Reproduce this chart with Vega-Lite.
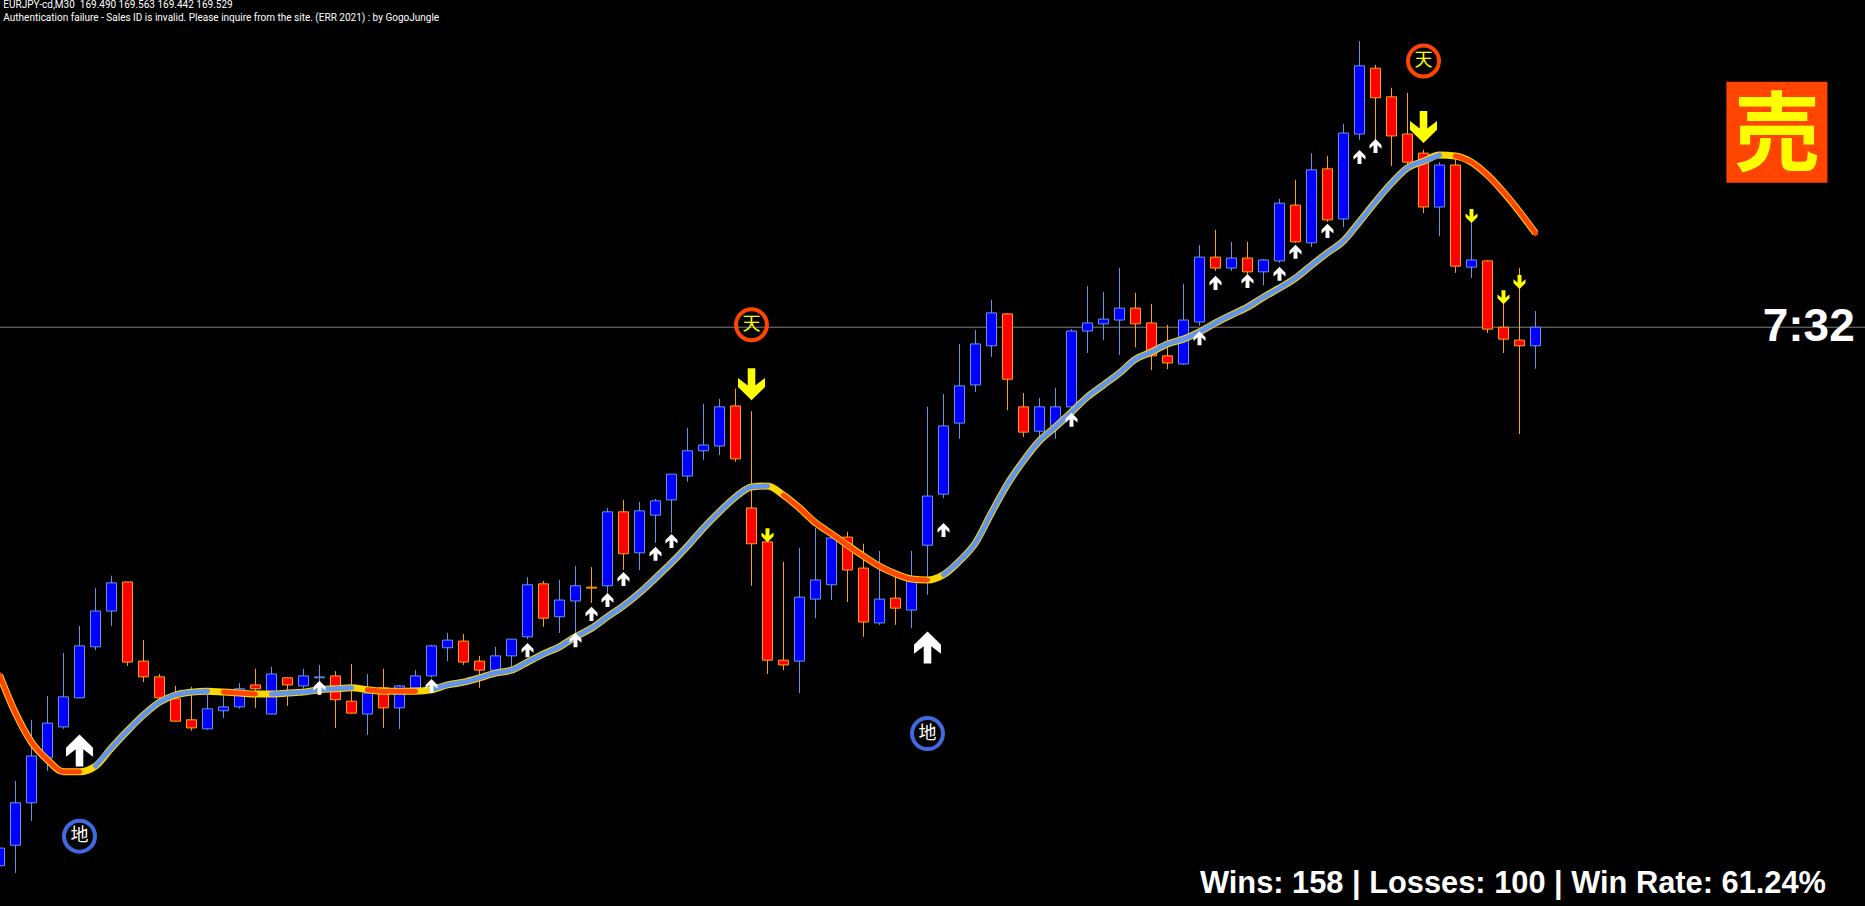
{
"$schema":"https://vega.github.io/schema/vega-lite/v6.json",
"width":1865,"height":906,"autosize":{"type":"none"},"padding":0,"background":"#000000",
"config":{"view":{"stroke":null},"axis":{"domain":false}},
"resolve":{"scale":{"color":"independent","fill":"independent","stroke":"independent","size":"independent","shape":"independent"}},
"datasets":{
"bars":[
{"b":-1,"d":"up","o":168.400,"h":168.441,"l":168.395,"c":168.437,"ma":168.800,"seg":0,"t":"down"},
{"b":0,"d":"up","o":168.443,"h":168.578,"l":168.385,"c":168.532,"ma":168.720,"seg":0,"t":"down"},
{"b":1,"d":"up","o":168.532,"h":168.706,"l":168.494,"c":168.630,"ma":168.659,"seg":0,"t":"down"},
{"b":2,"d":"up","o":168.626,"h":168.756,"l":168.599,"c":168.699,"ma":168.622,"seg":0,"t":"down"},
{"b":3,"d":"up","o":168.691,"h":168.846,"l":168.687,"c":168.754,"ma":168.597,"seg":0,"t":"down"},
{"b":4,"d":"up","o":168.752,"h":168.903,"l":168.752,"c":168.861,"ma":168.597,"seg":0,"t":"down"},
{"b":5,"d":"up","o":168.859,"h":168.982,"l":168.852,"c":168.934,"ma":168.609,"seg":1,"t":"up"},
{"b":6,"d":"up","o":168.934,"h":169.008,"l":168.903,"c":168.993,"ma":168.647,"seg":1,"t":"up"},
{"b":7,"d":"down","o":168.995,"h":168.995,"l":168.819,"c":168.827,"ma":168.683,"seg":1,"t":"up"},
{"b":8,"d":"down","o":168.829,"h":168.873,"l":168.785,"c":168.796,"ma":168.716,"seg":1,"t":"up"},
{"b":9,"d":"down","o":168.796,"h":168.802,"l":168.750,"c":168.752,"ma":168.743,"seg":1,"t":"up"},
{"b":10,"d":"down","o":168.750,"h":168.777,"l":168.703,"c":168.703,"ma":168.758,"seg":1,"t":"up"},
{"b":11,"d":"down","o":168.706,"h":168.775,"l":168.683,"c":168.689,"ma":168.764,"seg":1,"t":"up"},
{"b":12,"d":"up","o":168.687,"h":168.758,"l":168.685,"c":168.729,"ma":168.766,"seg":1,"t":"up"},
{"b":13,"d":"up","o":168.725,"h":168.758,"l":168.710,"c":168.733,"ma":168.764,"seg":2,"t":"down"},
{"b":14,"d":"up","o":168.733,"h":168.783,"l":168.729,"c":168.771,"ma":168.762,"seg":2,"t":"down"},
{"b":15,"d":"down","o":168.779,"h":168.813,"l":168.731,"c":168.771,"ma":168.760,"seg":2,"t":"down"},
{"b":16,"d":"up","o":168.718,"h":168.817,"l":168.718,"c":168.802,"ma":168.760,"seg":3,"t":"up"},
{"b":17,"d":"down","o":168.794,"h":168.794,"l":168.735,"c":168.779,"ma":168.762,"seg":3,"t":"up"},
{"b":18,"d":"up","o":168.777,"h":168.813,"l":168.771,"c":168.798,"ma":168.764,"seg":3,"t":"up"},
{"b":19,"d":"up","o":168.794,"h":168.821,"l":168.758,"c":168.796,"ma":168.769,"seg":3,"t":"up"},
{"b":20,"d":"down","o":168.798,"h":168.808,"l":168.689,"c":168.748,"ma":168.771,"seg":3,"t":"up"},
{"b":21,"d":"down","o":168.745,"h":168.823,"l":168.718,"c":168.720,"ma":168.773,"seg":3,"t":"up"},
{"b":22,"d":"up","o":168.718,"h":168.802,"l":168.674,"c":168.762,"ma":168.769,"seg":4,"t":"down"},
{"b":23,"d":"down","o":168.773,"h":168.813,"l":168.689,"c":168.731,"ma":168.766,"seg":4,"t":"down"},
{"b":24,"d":"up","o":168.731,"h":168.779,"l":168.687,"c":168.777,"ma":168.766,"seg":4,"t":"down"},
{"b":25,"d":"up","o":168.773,"h":168.810,"l":168.769,"c":168.798,"ma":168.766,"seg":4,"t":"down"},
{"b":26,"d":"up","o":168.798,"h":168.863,"l":168.794,"c":168.861,"ma":168.769,"seg":5,"t":"up"},
{"b":27,"d":"up","o":168.857,"h":168.888,"l":168.829,"c":168.873,"ma":168.779,"seg":5,"t":"up"},
{"b":28,"d":"down","o":168.871,"h":168.886,"l":168.821,"c":168.827,"ma":168.785,"seg":5,"t":"up"},
{"b":29,"d":"down","o":168.829,"h":168.840,"l":168.773,"c":168.810,"ma":168.794,"seg":5,"t":"up"},
{"b":30,"d":"up","o":168.810,"h":168.859,"l":168.800,"c":168.840,"ma":168.804,"seg":5,"t":"up"},
{"b":31,"d":"up","o":168.840,"h":168.875,"l":168.817,"c":168.875,"ma":168.810,"seg":5,"t":"up"},
{"b":32,"d":"up","o":168.880,"h":169.005,"l":168.875,"c":168.989,"ma":168.827,"seg":5,"t":"up"},
{"b":33,"d":"down","o":168.991,"h":168.997,"l":168.901,"c":168.919,"ma":168.844,"seg":5,"t":"up"},
{"b":34,"d":"up","o":168.922,"h":168.999,"l":168.888,"c":168.957,"ma":168.859,"seg":5,"t":"up"},
{"b":35,"d":"up","o":168.955,"h":169.028,"l":168.878,"c":168.987,"ma":168.880,"seg":5,"t":"up"},
{"b":36,"d":"down","o":168.984,"h":169.026,"l":168.951,"c":168.982,"ma":168.898,"seg":5,"t":"up"},
{"b":37,"d":"up","o":168.987,"h":169.150,"l":168.972,"c":169.142,"ma":168.922,"seg":5,"t":"up"},
{"b":38,"d":"down","o":169.142,"h":169.167,"l":169.020,"c":169.054,"ma":168.945,"seg":5,"t":"up"},
{"b":39,"d":"up","o":169.056,"h":169.163,"l":169.020,"c":169.144,"ma":168.972,"seg":5,"t":"up"},
{"b":40,"d":"up","o":169.135,"h":169.169,"l":169.077,"c":169.165,"ma":169.003,"seg":5,"t":"up"},
{"b":41,"d":"up","o":169.167,"h":169.221,"l":169.098,"c":169.221,"ma":169.035,"seg":5,"t":"up"},
{"b":42,"d":"up","o":169.217,"h":169.318,"l":169.205,"c":169.270,"ma":169.070,"seg":5,"t":"up"},
{"b":43,"d":"up","o":169.270,"h":169.368,"l":169.251,"c":169.282,"ma":169.108,"seg":5,"t":"up"},
{"b":44,"d":"up","o":169.280,"h":169.379,"l":169.261,"c":169.362,"ma":169.142,"seg":5,"t":"up"},
{"b":45,"d":"down","o":169.364,"h":169.400,"l":169.247,"c":169.253,"ma":169.173,"seg":5,"t":"up"},
{"b":46,"d":"down","o":169.150,"h":169.353,"l":168.987,"c":169.075,"ma":169.194,"seg":5,"t":"up"},
{"b":47,"d":"down","o":169.079,"h":169.079,"l":168.802,"c":168.831,"ma":169.196,"seg":5,"t":"up"},
{"b":48,"d":"down","o":168.831,"h":169.037,"l":168.810,"c":168.821,"ma":169.177,"seg":6,"t":"down"},
{"b":49,"d":"up","o":168.829,"h":169.066,"l":168.762,"c":168.963,"ma":169.150,"seg":6,"t":"down"},
{"b":50,"d":"up","o":168.959,"h":169.108,"l":168.919,"c":168.999,"ma":169.119,"seg":6,"t":"down"},
{"b":51,"d":"up","o":168.989,"h":169.089,"l":168.957,"c":169.087,"ma":169.096,"seg":6,"t":"down"},
{"b":52,"d":"down","o":169.089,"h":169.100,"l":168.953,"c":169.020,"ma":169.072,"seg":6,"t":"down"},
{"b":53,"d":"down","o":169.024,"h":169.075,"l":168.880,"c":168.911,"ma":169.049,"seg":6,"t":"down"},
{"b":54,"d":"up","o":168.909,"h":169.060,"l":168.905,"c":168.959,"ma":169.028,"seg":6,"t":"down"},
{"b":55,"d":"down","o":168.961,"h":169.008,"l":168.905,"c":168.940,"ma":169.012,"seg":6,"t":"down"},
{"b":56,"d":"up","o":168.936,"h":169.060,"l":168.898,"c":168.997,"ma":169.001,"seg":6,"t":"down"},
{"b":57,"d":"up","o":169.072,"h":169.362,"l":168.968,"c":169.175,"ma":168.999,"seg":6,"t":"down"},
{"b":58,"d":"up","o":169.179,"h":169.389,"l":169.171,"c":169.322,"ma":169.010,"seg":7,"t":"up"},
{"b":59,"d":"up","o":169.328,"h":169.494,"l":169.295,"c":169.406,"ma":169.039,"seg":7,"t":"up"},
{"b":60,"d":"up","o":169.408,"h":169.523,"l":169.393,"c":169.494,"ma":169.077,"seg":7,"t":"up"},
{"b":61,"d":"up","o":169.490,"h":169.586,"l":169.467,"c":169.559,"ma":169.140,"seg":7,"t":"up"},
{"b":62,"d":"down","o":169.557,"h":169.559,"l":169.355,"c":169.420,"ma":169.200,"seg":7,"t":"up"},
{"b":63,"d":"down","o":169.362,"h":169.391,"l":169.299,"c":169.309,"ma":169.249,"seg":7,"t":"up"},
{"b":64,"d":"up","o":169.311,"h":169.381,"l":169.293,"c":169.362,"ma":169.291,"seg":7,"t":"up"},
{"b":65,"d":"up","o":169.322,"h":169.402,"l":169.295,"c":169.362,"ma":169.320,"seg":7,"t":"up"},
{"b":66,"d":"up","o":169.362,"h":169.525,"l":169.349,"c":169.521,"ma":169.351,"seg":7,"t":"up"},
{"b":67,"d":"up","o":169.521,"h":169.615,"l":169.475,"c":169.538,"ma":169.383,"seg":7,"t":"up"},
{"b":68,"d":"up","o":169.536,"h":169.603,"l":169.502,"c":169.546,"ma":169.408,"seg":7,"t":"up"},
{"b":69,"d":"up","o":169.544,"h":169.653,"l":169.471,"c":169.569,"ma":169.433,"seg":7,"t":"up"},
{"b":70,"d":"down","o":169.569,"h":169.601,"l":169.487,"c":169.536,"ma":169.462,"seg":7,"t":"up"},
{"b":71,"d":"down","o":169.538,"h":169.578,"l":169.439,"c":169.469,"ma":169.477,"seg":7,"t":"up"},
{"b":72,"d":"down","o":169.469,"h":169.534,"l":169.441,"c":169.454,"ma":169.494,"seg":7,"t":"up"},
{"b":73,"d":"up","o":169.452,"h":169.620,"l":169.450,"c":169.544,"ma":169.504,"seg":7,"t":"up"},
{"b":74,"d":"up","o":169.540,"h":169.701,"l":169.532,"c":169.676,"ma":169.519,"seg":7,"t":"up"},
{"b":75,"d":"down","o":169.676,"h":169.733,"l":169.647,"c":169.653,"ma":169.538,"seg":7,"t":"up"},
{"b":76,"d":"up","o":169.653,"h":169.708,"l":169.647,"c":169.674,"ma":169.555,"seg":7,"t":"up"},
{"b":77,"d":"down","o":169.674,"h":169.708,"l":169.632,"c":169.645,"ma":169.571,"seg":7,"t":"up"},
{"b":78,"d":"up","o":169.645,"h":169.672,"l":169.617,"c":169.670,"ma":169.592,"seg":7,"t":"up"},
{"b":79,"d":"up","o":169.668,"h":169.798,"l":169.664,"c":169.789,"ma":169.611,"seg":7,"t":"up"},
{"b":80,"d":"down","o":169.785,"h":169.838,"l":169.706,"c":169.708,"ma":169.632,"seg":7,"t":"up"},
{"b":81,"d":"up","o":169.706,"h":169.894,"l":169.697,"c":169.859,"ma":169.659,"seg":7,"t":"up"},
{"b":82,"d":"down","o":169.861,"h":169.888,"l":169.750,"c":169.754,"ma":169.685,"seg":7,"t":"up"},
{"b":83,"d":"up","o":169.756,"h":169.955,"l":169.739,"c":169.936,"ma":169.710,"seg":7,"t":"up"},
{"b":84,"d":"up","o":169.934,"h":170.129,"l":169.922,"c":170.077,"ma":169.750,"seg":7,"t":"up"},
{"b":85,"d":"down","o":170.072,"h":170.079,"l":169.921,"c":170.010,"ma":169.792,"seg":7,"t":"up"},
{"b":86,"d":"down","o":170.012,"h":170.031,"l":169.867,"c":169.930,"ma":169.831,"seg":7,"t":"up"},
{"b":87,"d":"down","o":169.934,"h":170.020,"l":169.869,"c":169.875,"ma":169.863,"seg":7,"t":"up"},
{"b":88,"d":"down","o":169.894,"h":169.901,"l":169.768,"c":169.781,"ma":169.877,"seg":7,"t":"up"},
{"b":89,"d":"up","o":169.781,"h":169.875,"l":169.720,"c":169.869,"ma":169.890,"seg":7,"t":"up"},
{"b":90,"d":"down","o":169.869,"h":169.890,"l":169.643,"c":169.657,"ma":169.888,"seg":8,"t":"down"},
{"b":91,"d":"up","o":169.655,"h":169.760,"l":169.632,"c":169.670,"ma":169.875,"seg":8,"t":"down"},
{"b":92,"d":"down","o":169.668,"h":169.670,"l":169.517,"c":169.525,"ma":169.848,"seg":8,"t":"down"},
{"b":93,"d":"down","o":169.529,"h":169.590,"l":169.475,"c":169.504,"ma":169.812,"seg":8,"t":"down"},
{"b":94,"d":"down","o":169.502,"h":169.653,"l":169.305,"c":169.490,"ma":169.771,"seg":8,"t":"down"},
{"b":95,"d":"up","o":169.490,"h":169.563,"l":169.442,"c":169.529,"ma":169.726,"seg":8,"t":"down"}
],
"arrows":[
{"b":4,"p":168.641,"k":"up","m":"bu","s":"big"},{"b":57,"p":168.857,"k":"up","m":"bu","s":"big"},
{"b":46,"p":169.410,"k":"down","m":"bd","s":"big"},{"b":88,"p":169.949,"k":"down","m":"bd","s":"big"},
{"b":19,"p":168.773,"k":"up","m":"su","s":"small"},{"b":26,"p":168.777,"k":"up","m":"su","s":"small"},
{"b":32,"p":168.852,"k":"up","m":"su","s":"small"},{"b":35,"p":168.873,"k":"up","m":"su","s":"small"},
{"b":36,"p":168.928,"k":"up","m":"su","s":"small"},{"b":37,"p":168.957,"k":"up","m":"su","s":"small"},
{"b":38,"p":169.001,"k":"up","m":"su","s":"small"},{"b":40,"p":169.054,"k":"up","m":"su","s":"small"},
{"b":41,"p":169.081,"k":"up","m":"su","s":"small"},{"b":58,"p":169.104,"k":"up","m":"su","s":"small"},
{"b":66,"p":169.335,"k":"up","m":"su","s":"small"},{"b":74,"p":169.506,"k":"up","m":"su","s":"small"},
{"b":75,"p":169.622,"k":"up","m":"su","s":"small"},{"b":77,"p":169.626,"k":"up","m":"su","s":"small"},
{"b":79,"p":169.641,"k":"up","m":"su","s":"small"},{"b":80,"p":169.687,"k":"up","m":"su","s":"small"},
{"b":82,"p":169.731,"k":"up","m":"su","s":"small"},{"b":84,"p":169.886,"k":"up","m":"su","s":"small"},
{"b":85,"p":169.909,"k":"up","m":"su","s":"small"},
{"b":47,"p":169.093,"k":"down","m":"sd","s":"small"},{"b":91,"p":169.762,"k":"down","m":"sd","s":"small"},
{"b":93,"p":169.592,"k":"down","m":"sd","s":"small"},{"b":94,"p":169.624,"k":"down","m":"sd","s":"small"}
],
"seals":[
{"b":46,"p":169.534,"label":"天","k":"top"},{"b":88,"p":170.087,"label":"天","k":"top"},
{"b":4,"p":168.462,"label":"地","k":"bottom"},{"b":57,"p":168.677,"label":"地","k":"bottom"}
]
},
"layer":[
{"data":{"values":[{"p":169.529}]},"mark":{"type":"rule","stroke":"#808080","strokeWidth":1},
 "encoding":{"y":{"field":"p","type":"quantitative","scale":{"domain":[168.3156,170.215],"nice":false,"zero":false},"axis":null}}},
{"data":{"name":"bars"},"mark":{"type":"rule","strokeWidth":1,"clip":true},
 "encoding":{
  "x":{"field":"b","type":"quantitative","scale":{"domain":[-0.96875,115.59375],"nice":false,"zero":false,"padding":0},"axis":null},
  "y":{"field":"l","type":"quantitative","scale":{"domain":[168.3156,170.215],"nice":false,"zero":false},"axis":null},
  "y2":{"field":"h"},
  "stroke":{"field":"d","type":"nominal","scale":{"domain":["up","down"],"range":["#6495ED","#FFA500"]},"legend":null}}},
{"data":{"name":"bars"},"mark":{"type":"bar","size":10,"strokeWidth":1,"clip":true},
 "encoding":{
  "x":{"field":"b","type":"quantitative","scale":{"domain":[-0.96875,115.59375],"nice":false,"zero":false,"padding":0},"axis":null},
  "y":{"field":"o","type":"quantitative","scale":{"domain":[168.3156,170.215],"nice":false,"zero":false},"axis":null},
  "y2":{"field":"c"},
  "fill":{"field":"d","type":"nominal","scale":{"domain":["up","down"],"range":["#0000FF","#FF0000"]},"legend":null},
  "stroke":{"field":"d","type":"nominal","scale":{"domain":["up","down"],"range":["#6495ED","#FFA500"]},"legend":null}}},
{"data":{"name":"bars"},"mark":{"type":"line","stroke":"#FFD700","strokeWidth":7,"interpolate":"monotone","clip":true},
 "encoding":{
  "x":{"field":"b","type":"quantitative","scale":{"domain":[-0.96875,115.59375],"nice":false,"zero":false,"padding":0},"axis":null},
  "y":{"field":"ma","type":"quantitative","scale":{"domain":[168.3156,170.215],"nice":false,"zero":false},"axis":null}}},
{"data":{"name":"bars"},"mark":{"type":"line","strokeWidth":5,"strokeCap":"round","interpolate":"monotone","clip":true},
 "encoding":{
  "x":{"field":"b","type":"quantitative","scale":{"domain":[-0.96875,115.59375],"nice":false,"zero":false,"padding":0},"axis":null},
  "y":{"field":"ma","type":"quantitative","scale":{"domain":[168.3156,170.215],"nice":false,"zero":false},"axis":null},
  "detail":{"field":"seg","type":"nominal"},
  "color":{"field":"t","type":"nominal","scale":{"domain":["up","down"],"range":["#6495ED","#FF4500"]},"legend":null}}},
{"data":{"name":"arrows"},"mark":{"type":"point","filled":true,"opacity":1},
 "encoding":{
  "x":{"field":"b","type":"quantitative","scale":{"domain":[-0.96875,115.59375],"nice":false,"zero":false,"padding":0},"axis":null},
  "y":{"field":"p","type":"quantitative","scale":{"domain":[168.3156,170.215],"nice":false,"zero":false},"axis":null},
  "shape":{"field":"m","type":"nominal","scale":{"domain":["bu","bd","su","sd"],"range":["M0,-1.2L1,-0.22L1,0.44L0.28,-0.12L0.28,1.17L-0.28,1.17L-0.28,-0.12L-1,0.44L-1,-0.22Z","M0,1.2L1,0.22L1,-0.44L0.28,0.12L0.28,-1.17L-0.28,-1.17L-0.28,0.12L-1,-0.44L-1,0.22Z","M0,-1.17L1,-0.17L1,0.45L0.33,-0.1L0.33,1.17L-0.33,1.17L-0.33,-0.1L-1,0.45L-1,-0.17Z","M0,1.17L1,0.17L1,-0.45L0.33,0.1L0.33,-1.17L-0.33,-1.17L-0.33,0.1L-1,-0.45L-1,0.17Z"]},"legend":null},
  "size":{"field":"s","type":"ordinal","scale":{"domain":["small","big"],"range":[144,729]},"legend":null},
  "color":{"field":"k","type":"nominal","scale":{"domain":["up","down"],"range":["#FFFFFF","#FFFF00"]},"legend":null}}},
{"data":{"name":"seals"},"mark":{"type":"point","filled":false,"opacity":1,"strokeWidth":4,"shape":"circle","size":960},
 "encoding":{
  "x":{"field":"b","type":"quantitative","scale":{"domain":[-0.96875,115.59375],"nice":false,"zero":false,"padding":0},"axis":null},
  "y":{"field":"p","type":"quantitative","scale":{"domain":[168.3156,170.215],"nice":false,"zero":false},"axis":null},
  "stroke":{"field":"k","type":"nominal","scale":{"domain":["top","bottom"],"range":["#FF4500","#4169E1"]},"legend":null}}},
{"data":{"name":"seals"},"mark":{"type":"text","font":"Noto Sans CJK JP","fontSize":18,"align":"center","baseline":"middle"},
 "encoding":{
  "x":{"field":"b","type":"quantitative","scale":{"domain":[-0.96875,115.59375],"nice":false,"zero":false,"padding":0},"axis":null},
  "y":{"field":"p","type":"quantitative","scale":{"domain":[168.3156,170.215],"nice":false,"zero":false},"axis":null},
  "text":{"field":"label"},
  "fill":{"field":"k","type":"nominal","scale":{"domain":["top","bottom"],"range":["#FFFF00","#FFFFFF"]},"legend":null}}},
{"data":{"values":[{"b":110.09,"p":169.938}]},"mark":{"type":"point","shape":"square","filled":true,"opacity":1,"size":10201,"color":"#FF4500"},
 "encoding":{
  "x":{"field":"b","type":"quantitative","scale":{"domain":[-0.96875,115.59375],"nice":false,"zero":false,"padding":0},"axis":null},
  "y":{"field":"p","type":"quantitative","scale":{"domain":[168.3156,170.215],"nice":false,"zero":false},"axis":null}}},
{"data":{"values":[{"b":110.09,"p":169.925,"label":"売"}]},"mark":{"type":"text","font":"Noto Sans CJK JP","fontSize":86,"fontWeight":"bold","align":"center","baseline":"middle","color":"#FFFF00"},
 "encoding":{
  "x":{"field":"b","type":"quantitative","scale":{"domain":[-0.96875,115.59375],"nice":false,"zero":false,"padding":0},"axis":null},
  "y":{"field":"p","type":"quantitative","scale":{"domain":[168.3156,170.215],"nice":false,"zero":false},"axis":null},
  "text":{"field":"label"}}},
{"data":{"values":[{"b":109.2,"p":169.500,"label":"7:32"}]},"mark":{"type":"text","font":"Liberation Sans","fontWeight":"bold","fontSize":46,"align":"left","baseline":"alphabetic","color":"#FFFFFF"},
 "encoding":{
  "x":{"field":"b","type":"quantitative","scale":{"domain":[-0.96875,115.59375],"nice":false,"zero":false,"padding":0},"axis":null},
  "y":{"field":"p","type":"quantitative","scale":{"domain":[168.3156,170.215],"nice":false,"zero":false},"axis":null},
  "text":{"field":"label"}}},
{"data":{"values":[{"b":74.03,"p":168.343,"label":"Wins: 158 | Losses: 100 | Win Rate: 61.24%"}]},"mark":{"type":"text","font":"Liberation Sans","fontWeight":"bold","fontSize":30.8,"align":"left","baseline":"alphabetic","color":"#FFFFFF"},
 "encoding":{
  "x":{"field":"b","type":"quantitative","scale":{"domain":[-0.96875,115.59375],"nice":false,"zero":false,"padding":0},"axis":null},
  "y":{"field":"p","type":"quantitative","scale":{"domain":[168.3156,170.215],"nice":false,"zero":false},"axis":null},
  "text":{"field":"label"}}},
{"data":{"values":[{"b":-0.76,"p":170.198,"label":"EURJPY-cd,M30\u00a0\u00a0169.490 169.563 169.442 169.529"},{"b":-0.76,"p":170.171,"label":"Authentication failure - Sales ID is invalid. Please inquire from the site. (ERR 2021) : by GogoJungle"}]},"mark":{"type":"text","font":"Roboto","fontSize":10,"align":"left","baseline":"alphabetic","color":"#FFFFFF"},
 "encoding":{
  "x":{"field":"b","type":"quantitative","scale":{"domain":[-0.96875,115.59375],"nice":false,"zero":false,"padding":0},"axis":null},
  "y":{"field":"p","type":"quantitative","scale":{"domain":[168.3156,170.215],"nice":false,"zero":false},"axis":null},
  "text":{"field":"label"}}}
]
}
